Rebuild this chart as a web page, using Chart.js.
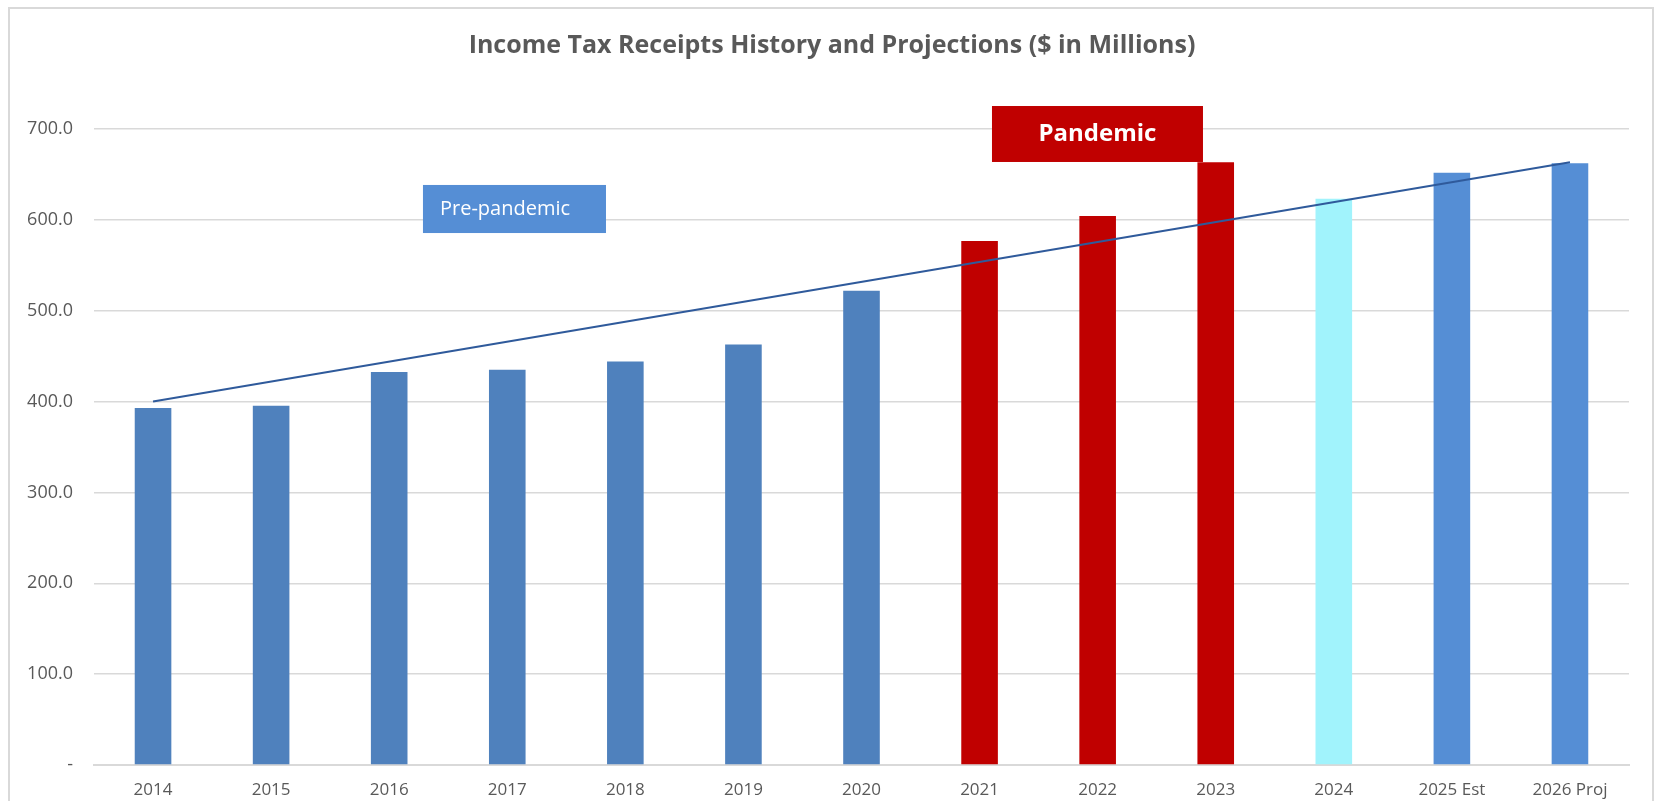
<!DOCTYPE html>
<html lang="en">
<head>
    <meta charset="UTF-8">
    <title>Income Tax Receipts</title>
    <script src="https://cdn.jsdelivr.net/npm/chart.js"></script>
    <style>
        html, body { margin: 0; padding: 0; background: #fff; }
        #wrap { width: 1657px; height: 801px; position: relative; }
    </style>
</head>
<body>
    <div id="wrap"><canvas id="taxChart" width="1657" height="801"></canvas></div>

    <script>
        // dados
        const years = ['2014', '2015', '2016', '2017', '2018', '2019', '2020',
                       '2021', '2022', '2023', '2024', '2025 Est', '2026 Proj'];
        const receipts = [393.0, 395.3, 432.5, 434.9, 444.2, 462.8, 522.1,
                          576.7, 604.2, 663.5, 623.3, 651.9, 662.2];
        const trendStart = 400.0;
        const trendEnd = 663.5;
        const yTicks = [0, 100, 200, 300, 400, 500, 600, 700];
        const chartTitle = 'Income Tax Receipts History and Projections ($ in Millions)';

        const barColors = ['#4F81BD', '#4F81BD', '#4F81BD', '#4F81BD', '#4F81BD', '#4F81BD', '#4F81BD',
                           '#C00000', '#C00000', '#C00000', '#A1F3FC', '#558ED5', '#558ED5'];

        const trendData = years.map(() => null);
        trendData[0] = trendStart;
        trendData[years.length - 1] = trendEnd;

        // caixas de texto (posição em índice de categoria / valor)
        const callouts = [
            { text: 'Pandemic', x0: 7.105, x1: 8.892, y0: 725.3, y1: 663.7,
              fill: '#C00000', font: 'bold 24px "Open Sans"', align: 'center' },
            { text: 'Pre-pandemic', x0: 2.286, x1: 3.836, y0: 638.4, y1: 585.5,
              fill: '#558ED5', font: '20px "Open Sans"', align: 'left' }
        ];

        // moldura + título
        const framePlugin = {
            id: 'frame',
            beforeDraw(chart) {
                const ctx = chart.ctx;
                ctx.save();
                ctx.fillStyle = '#fff';
                ctx.fillRect(0, 0, chart.width, chart.height);
                ctx.strokeStyle = '#D9D9D9';
                ctx.lineWidth = 2;
                ctx.beginPath();
                ctx.moveTo(9, chart.height);
                ctx.lineTo(9, 8);
                ctx.lineTo(1653, 8);
                ctx.lineTo(1653, chart.height);
                ctx.stroke();

                ctx.fillStyle = '#595959';
                ctx.font = 'bold 25px "Open Sans"';
                ctx.textAlign = 'center';
                ctx.textBaseline = 'middle';
                ctx.fillText(chartTitle, 832, 46);
                ctx.restore();
            }
        };

        const calloutPlugin = {
            id: 'callouts',
            afterDatasetsDraw(chart) {
                const ctx = chart.ctx;
                const xs = chart.scales.x, ys = chart.scales.y;
                ctx.save();
                callouts.forEach(c => {
                    const l = xs.getPixelForValue(c.x0), r = xs.getPixelForValue(c.x1);
                    const t = ys.getPixelForValue(c.y0), b = ys.getPixelForValue(c.y1);
                    ctx.fillStyle = c.fill;
                    ctx.fillRect(l, t, r - l, b - t);
                    ctx.fillStyle = '#fff';
                    ctx.font = c.font;
                    ctx.textBaseline = 'middle';
                    if (c.align === 'center') {
                        ctx.textAlign = 'center';
                        ctx.fillText(c.text, (l + r) / 2, (t + b) / 2);
                    } else {
                        ctx.textAlign = 'left';
                        ctx.fillText(c.text, l + 17, (t + b) / 2);
                    }
                });
                ctx.restore();
            }
        };

        const ctx = document.getElementById('taxChart').getContext('2d');
        const taxChart = new Chart(ctx, {
            type: 'bar',
            data: {
                labels: years,
                datasets: [{
                    label: 'Receipts',
                    data: receipts,
                    backgroundColor: barColors,
                    barPercentage: 0.31,
                    categoryPercentage: 1.0,
                    order: 2
                }, {
                    type: 'line',
                    label: 'Trend',
                    data: trendData,
                    spanGaps: true,
                    borderColor: '#2F5A9B',
                    borderWidth: 2,
                    pointRadius: 0,
                    fill: false,
                    order: 1
                }]
            },
            options: {
                responsive: false,
                animation: false,
                layout: { padding: { left: 0, right: 28, top: 129, bottom: 0 } },
                plugins: {
                    legend: { display: false },
                    tooltip: { enabled: false },
                    title: { display: false }
                },
                scales: {
                    x: {
                        grid: { display: false, drawTicks: false },
                        border: { color: '#D9D9D9', width: 2 },
                        ticks: {
                            color: '#595959',
                            font: { family: '"Open Sans"', size: 17 },
                            padding: 15,
                            maxRotation: 0,
                            autoSkip: false
                        },
                        afterFit(scale) { scale.height = 36; }
                    },
                    y: {
                        min: 0,
                        max: 700,
                        afterBuildTicks(scale) {
                            scale.ticks = yTicks.map(v => ({ value: v }));
                        },
                        grid: { color: '#D9D9D9', lineWidth: 1.5, drawTicks: false },
                        border: { display: false },
                        ticks: {
                            color: '#595959',
                            font: { family: '"Open Sans"', size: 18 },
                            padding: 21,
                            callback: v => v === 0 ? '-' : v.toFixed(1)
                        },
                        afterFit(scale) { scale.width = 94; }
                    }
                }
            },
            plugins: [framePlugin, calloutPlugin]
        });
    </script>
</body>
</html>
